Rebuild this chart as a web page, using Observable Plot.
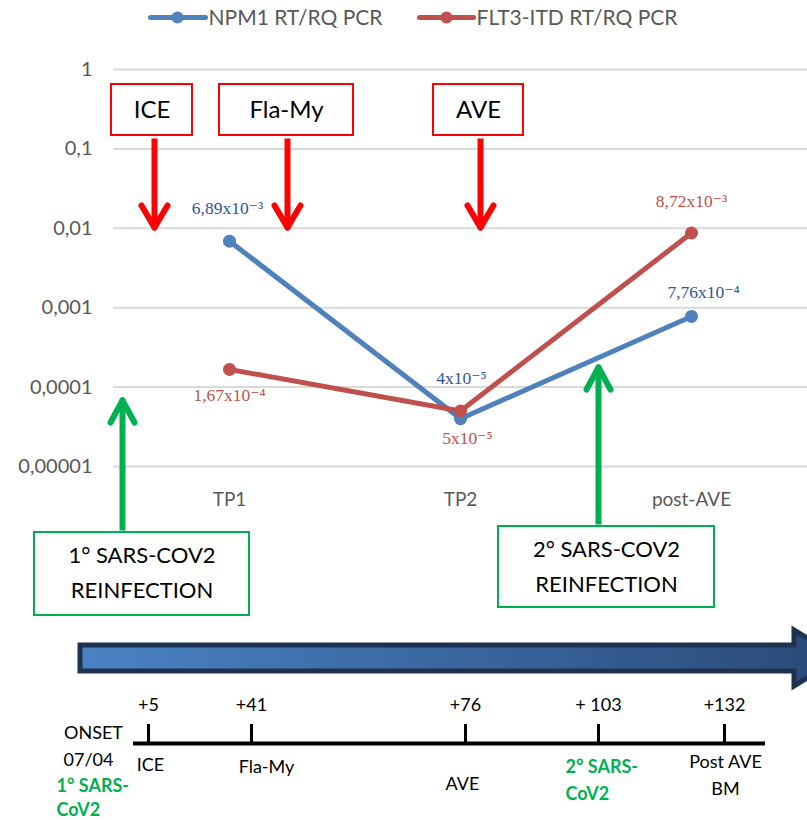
<!DOCTYPE html>
<html><head><meta charset="utf-8">
<script src="https://cdn.jsdelivr.net/npm/d3@7"></script>
<script src="https://cdn.jsdelivr.net/npm/@observablehq/plot@0.6"></script>
<style>
body{margin:0;background:#fff;}
#wrap{position:relative;width:807px;height:820px;overflow:hidden;background:#fff;}
#wrap > svg{position:absolute;left:0;top:0;}
</style></head><body><div id="wrap"></div>
<script>
// ---------- data ----------
const timepoints = ["TP1", "TP2", "post-AVE"];
const npm1 = [6.89e-3, 4e-5, 7.76e-4];
const flt3 = [1.67e-4, 5e-5, 8.72e-3];
const npm1Labels = ["6,89x10⁻³", "4x10⁻⁵", "7,76x10⁻⁴"];
const flt3Labels = ["1,67x10⁻⁴", "5x10⁻⁵", "8,72x10⁻³"];
const yTicks = [1, 0.1, 0.01, 0.001, 0.0001, 0.00001];
const yTickLabels = ["1", "0,1", "0,01", "0,001", "0,0001", "0,00001"];
const seriesNames = ["NPM1 RT/RQ PCR", "FLT3-ITD RT/RQ PCR"];
const treatments = ["ICE", "Fla-My", "AVE"];
const infections = [["1° SARS-COV2", "REINFECTION"], ["2° SARS-COV2", "REINFECTION"]];
const timelineDays = ["+5", "+41", "+76", "+ 103", "+132"];
const timelineEvents = [["ICE"], ["Fla-My"], ["AVE"], ["2° SARS-", "CoV2"], ["Post AVE", "BM"]];
const onsetLines = ["ONSET", "07/04"];
const onsetInfection = ["1° SARS-", "CoV2"];

// ---------- styles / layout ----------
const BLUE = "#4f81bd", RED = "#c0504d", GREEN = "#00b050";
const BLUE_TXT = "#2f5597", RED_TXT = "#c0504d";
const SANS = "Lato, 'Open Sans', sans-serif";
const SERIF = "'Liberation Serif', 'DejaVu Serif', serif";
const labelOffsets = [
  [[-2, -33], [1, -40], [12, -24]],   // NPM1
  [[0, 26], [7, 27], [0, -32]]        // FLT3
];
const treatBoxes = [[111, 192], [219, 353], [433, 523]]; // x0,x1 ; y 84..135
const treatArrowX = [154, 287, 480];
const infBoxes = [[34, 249, 532, 615], [498, 714, 526, 607]];
const infArrows = [[122, 530, 398], [598, 524, 365]];
const tickX = [148, 251, 465, 598, 724];
const eventPos = [[150, 765, "middle"], [266, 767, "middle"], [462, 784, "middle"], [565, 767, "start"], [725, 762, "middle"]];

const wrap = document.getElementById("wrap");

// ---------- main chart ----------
const rows = [];
timepoints.forEach((t, i) => {
  rows.push({series: seriesNames[0], tp: t, v: npm1[i], label: npm1Labels[i], si: 0, i});
  rows.push({series: seriesNames[1], tp: t, v: flt3[i], label: flt3Labels[i], si: 1, i});
});
const colorsOf = [BLUE, RED];
const txtColorsOf = [BLUE_TXT, RED_TXT];

const seriesMarks = [];
[0, 1].forEach(si => {
  const d = rows.filter(r => r.si === si);
  seriesMarks.push(Plot.line(d, {x: "tp", y: "v", stroke: colorsOf[si], strokeWidth: 5, strokeLinecap: "round"}));
  seriesMarks.push(Plot.dot(d, {x: "tp", y: "v", fill: colorsOf[si], r: 6.5}));
});
const labelMarks = rows.map(r => Plot.text([r], {
  x: "tp", y: "v", text: "label", fill: txtColorsOf[r.si],
  dx: labelOffsets[r.si][r.i][0], dy: labelOffsets[r.si][r.i][1],
  fontFamily: SERIF, fontSize: 17.5
}));

const main = Plot.plot({
  width: 807, height: 820,
  marginLeft: 113, marginRight: 0, marginTop: 69, marginBottom: 354,
  x: {type: "point", domain: timepoints, padding: 0.5},
  y: {type: "log", domain: [1e-5, 1]},
  style: {fontFamily: SANS, background: "transparent", overflow: "visible"},
  marks: [
    Plot.gridY(yTicks, {stroke: "#d9d9d9", strokeOpacity: 1, strokeWidth: 2}),
    Plot.axisY(yTicks, {tickSize: 0, tickPadding: 21, fontSize: 20, fill: "#595959",
      tickFormat: d => yTickLabels[yTicks.indexOf(d)], label: null}),
    Plot.axisX({tickSize: 0, tickPadding: 26, fontSize: 19, fill: "#595959", label: null}),
    ...seriesMarks,
    ...labelMarks
  ]
});
wrap.appendChild(main);

// ---------- annotations & timeline overlay ----------
const bigArrow = () => {
  const g = d3.create("svg:g");
  const defs = g.append("defs");
  const lg = defs.append("linearGradient").attr("id", "barGrad").attr("x1", "0%").attr("x2", "100%");
  lg.append("stop").attr("offset", "0%").attr("stop-color", "#4a82c4");
  lg.append("stop").attr("offset", "100%").attr("stop-color", "#2a4a78");
  g.append("path")
    .attr("d", "M80,645 L794,645 L794,630 L840,658 L794,686 L794,671 L80,671 Z")
    .attr("fill", "url(#barGrad)").attr("stroke", "#1e3250").attr("stroke-width", 5)
    .attr("stroke-linejoin", "miter");
  return g.node();
};

const treatData = treatments.map((t, i) => ({t, x0: treatBoxes[i][0], x1: treatBoxes[i][1], ax: treatArrowX[i]}));
const infData = infections.map((lines, i) => ({lines, b: infBoxes[i], a: infArrows[i]}));

const chevronDown = treatData.flatMap(d => [
  {x1: d.ax - 13, y1: 205, x2: d.ax, y2: 227},
  {x1: d.ax + 13, y1: 205, x2: d.ax, y2: 227}
]);
const chevronUp = infData.flatMap(d => [
  {x1: d.a[0] - 12, y1: d.a[2] + 24, x2: d.a[0], y2: d.a[2] + 2},
  {x1: d.a[0] + 12, y1: d.a[2] + 24, x2: d.a[0], y2: d.a[2] + 2}
]);

const dayData = timelineDays.map((t, i) => ({t, x: tickX[i]}));
const eventLines = timelineEvents.flatMap((lines, i) => lines.map((l, j) => ({
  t: l, x: eventPos[i][0], y: eventPos[i][1] + j * 27, anchor: eventPos[i][2], green: i === 3
})));

const overlay = Plot.plot({
  width: 807, height: 820, margin: 0,
  x: {type: "identity", axis: null}, y: {type: "identity", axis: null},
  style: {fontFamily: SANS, background: "transparent", overflow: "visible"},
  marks: [
    // treatment boxes and arrows
    Plot.rect(treatData, {x1: "x0", x2: "x1", y1: 84, y2: 135, fill: "white", stroke: "#ff0000", strokeWidth: 2}),
    Plot.text(treatData, {x: d => (d.x0 + d.x1) / 2, y: 110, text: "t", fontSize: 24, fill: "black"}),
    Plot.link(treatData, {x1: "ax", x2: "ax", y1: 138, y2: 224, stroke: "#ff0000", strokeWidth: 6}),
    Plot.link(chevronDown, {x1: "x1", y1: "y1", x2: "x2", y2: "y2", stroke: "#ff0000", strokeWidth: 6, strokeLinecap: "round"}),
    // infection boxes and arrows
    Plot.link(infData, {x1: d => d.a[0], x2: d => d.a[0], y1: d => d.a[1], y2: d => d.a[2] + 6, stroke: GREEN, strokeWidth: 6}),
    Plot.link(chevronUp, {x1: "x1", y1: "y1", x2: "x2", y2: "y2", stroke: GREEN, strokeWidth: 6, strokeLinecap: "round"}),
    Plot.rect(infData, {x1: d => d.b[0], x2: d => d.b[1], y1: d => d.b[2], y2: d => d.b[3], fill: "white", stroke: GREEN, strokeWidth: 2}),
    Plot.text(infData, {x: d => (d.b[0] + d.b[1]) / 2, y: d => d.b[2] + 23, text: d => d.lines[0], fontSize: 22, fill: "black"}),
    Plot.text(infData, {x: d => (d.b[0] + d.b[1]) / 2, y: d => d.b[2] + 58, text: d => d.lines[1], fontSize: 22, fill: "black"}),
    // big timeline arrow
    bigArrow,
    // timeline
    Plot.ruleY([743], {x1: 133, x2: 765, stroke: "black", strokeWidth: 4}),
    Plot.ruleX(dayData, {x: "x", y1: 724, y2: 743, stroke: "black", strokeWidth: 3}),
    Plot.text(dayData, {x: "x", y: 705, text: "t", fontSize: 18, fill: "black"}),
    Plot.text(eventLines, {x: "x", y: "y", text: "t", textAnchor: "start", filter: d => d.anchor === "start",
      fontSize: 18, fill: GREEN, fontWeight: "bold"}),
    Plot.text(eventLines, {x: "x", y: "y", text: "t", filter: d => d.anchor === "middle", fontSize: 18, fill: "black"}),
    Plot.text(onsetLines.map((t, i) => ({t, i})), {x: d => [93, 88][d.i], y: d => 733 + d.i * 27, text: "t", fontSize: 18, fill: "black"}),
    Plot.text(onsetInfection.map((t, i) => ({t, i})), {x: 56, y: d => 786 + d.i * 24, text: "t", textAnchor: "start",
      fontSize: 18, fill: GREEN, fontWeight: "bold"}),
    // legend
    Plot.link(seriesNames.map((s, i) => ({s, i})), {x1: d => [150, 419][d.i], x2: d => [205, 473][d.i], y1: 17, y2: 17,
      stroke: d => colorsOf[d.i], strokeWidth: 5, strokeLinecap: "round"}),
    Plot.dot(seriesNames.map((s, i) => ({s, i})), {x: d => [177, 446][d.i], y: 17, r: 6, fill: d => colorsOf[d.i]}),
    Plot.text(seriesNames.map((s, i) => ({s, i})), {x: d => [208, 476][d.i], y: 18, text: "s", textAnchor: "start",
      fontSize: 21, fill: "#595959"})
  ]
});
wrap.appendChild(overlay);
</script></body></html>
